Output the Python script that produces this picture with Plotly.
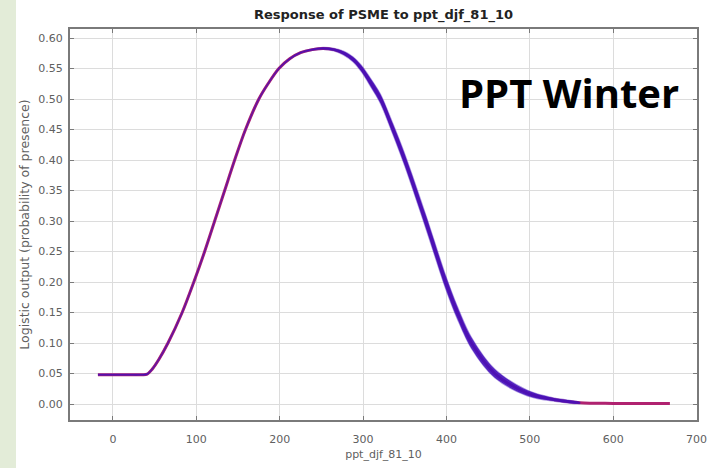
import plotly.graph_objects as go
import numpy as np

# data
ppt = [-18, 10, 35, 41, 47, 55, 66, 83, 97, 110, 122, 134, 146, 159, 175, 186, 199,
       212, 225, 239, 252, 265, 277, 288, 298, 310, 321, 336, 350, 375, 399, 413, 430,
       458, 497, 530, 560, 600, 668]
prob = [0.048, 0.048, 0.048, 0.049, 0.057, 0.073, 0.10, 0.15, 0.20, 0.25, 0.30,
        0.35, 0.40, 0.45, 0.50, 0.525, 0.55, 0.566, 0.576, 0.581, 0.583, 0.581, 0.575,
        0.565, 0.55, 0.525, 0.50, 0.45, 0.40, 0.30, 0.20, 0.15, 0.10, 0.05, 0.018,
        0.007, 0.002, 0.001, 0.001]
sd = [0.001, 0.001, 0.001, 0.001, 0.001, 0.001, 0.001, 0.001, 0.001, 0.001, 0.001,
      0.001, 0.001, 0.001, 0.001, 0.001, 0.001, 0.001, 0.001, 0.0012, 0.0015, 0.002,
      0.003, 0.004, 0.005, 0.0065, 0.0075, 0.0085, 0.0095, 0.0105, 0.0105, 0.01,
      0.009, 0.007, 0.0045, 0.0025, 0.001, 0.0, 0.0]
x_ticks = [0, 100, 200, 300, 400, 500, 600, 700]
y_ticks = [round(0.05 * i, 2) for i in range(13)]

x = np.array(ppt)
m = np.array(prob)
s = np.array(sd)
keep = s > 0
xb = x[keep]
up = (m + s)[keep]
lo = (m - s)[keep]

FONT = "DejaVu Sans"

fig = go.Figure()
# mean (red)
fig.add_trace(go.Scatter(x=x, y=m, mode="lines",
                         line=dict(color="#b02270", width=3, shape="spline", smoothing=0.9),
                         hoverinfo="skip"))
# +/- sd band (blue)
fig.add_trace(go.Scatter(x=np.concatenate([xb, xb[::-1]]),
                         y=np.concatenate([up, lo[::-1]]),
                         mode="lines", fill="toself", fillcolor="rgba(66,14,186,0.9)",
                         line=dict(color="rgba(66,14,186,0.42)", width=1.3,
                                   shape="spline", smoothing=0.9),
                         hoverinfo="skip"))

fig.add_annotation(text="PPT Winter", xref="paper", yref="paper",
                   x=(457 - 70) / 627, y=(420 - 113) / 391, xanchor="left", yanchor="bottom",
                   showarrow=False, yshift=-9,
                   font=dict(family="Open Sans", size=40, color="#000000", weight="bold"))

fig.add_shape(type="rect", xref="paper", yref="paper",
              x0=-70 / 627, x1=-54 / 627, y0=-0.2, y1=1.2,
              fillcolor="#e3ecd8", line=dict(width=0), layer="below")

axis_common = dict(showgrid=True, gridcolor="#dcdcdc", gridwidth=1,
                   showline=True, linecolor="#7a7a7a", linewidth=2, mirror="ticks",
                   ticks="inside", ticklen=4, tickcolor="#7a7a7a",
                   tickfont=dict(family=FONT, size=11, color="#606060"),
                   zeroline=False, automargin=False)

fig.update_layout(
    width=720, height=468,
    margin=dict(l=70, r=23, t=29, b=48),
    paper_bgcolor="white", plot_bgcolor="white",
    showlegend=False,
    title=dict(text="<b>Response of PSME to ppt_djf_81_10</b>", x=(70 + 697) / 2 / 720,
               xanchor="center", y=1 - 14 / 468, yanchor="middle",
               font=dict(family=FONT, size=13, color="#222222")),
    xaxis=dict(range=[-51.5, 700.5], tickvals=x_ticks, ticklabelstandoff=8, **axis_common,
               title=dict(text="ppt_djf_81_10", standoff=5,
                          font=dict(family=FONT, size=11, color="#606060"))),
    yaxis=dict(range=[-0.0262, 0.6148], tickvals=y_ticks, tickformat=".2f",
               ticklabelstandoff=3, **axis_common,
               title=dict(text="Logistic output (probability of presence)", standoff=6,
                          font=dict(family=FONT, size=12.5, color="#606060"))),
)

fig.write_html("out.html")
